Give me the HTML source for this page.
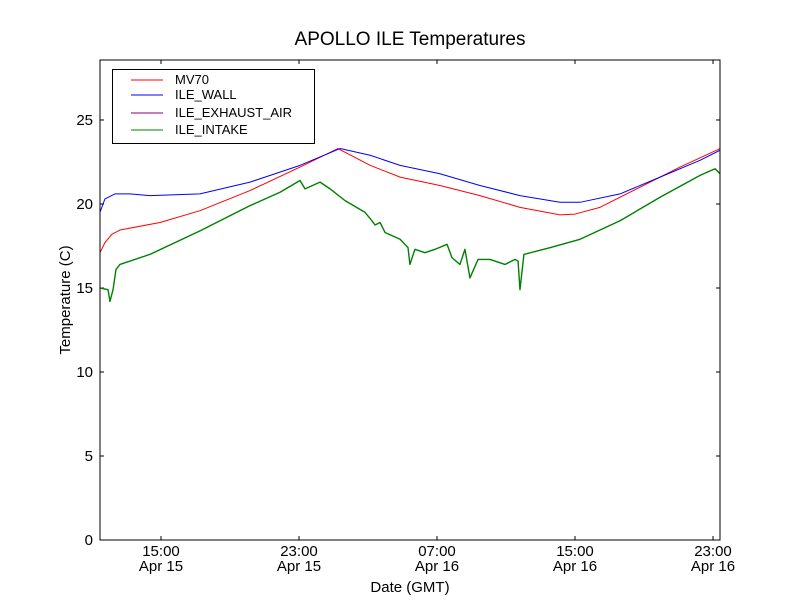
<!DOCTYPE html>
<html><head><meta charset="utf-8"><style>
body{margin:0;background:#fff;}
svg{display:block;font-family:"Liberation Sans",sans-serif;}
</style></head><body>
<svg id="chart" width="800" height="600" xmlns="http://www.w3.org/2000/svg">
<rect width="800" height="600" fill="#fff"/>
<text x="410" y="45" font-size="19" text-anchor="middle">APOLLO ILE Temperatures</text>
<text x="410" y="592" font-size="15" text-anchor="middle">Date (GMT)</text>
<text transform="translate(70,300) rotate(-90)" font-size="15" text-anchor="middle">Temperature (C)</text>
<g id="ticks"></g>
<g id="series" clip-path="url(#clip)"></g>
<clipPath id="clip"><rect x="100" y="60" width="620" height="480"/></clipPath>
<rect x="100" y="60" width="620" height="480" fill="none" stroke="#000" stroke-width="1"/>
<g>
<rect x="112.5" y="69.5" width="202" height="74" fill="#fff" stroke="#000" stroke-width="1"/>
<line x1="131" y1="80" x2="163" y2="80" stroke="#ff0000"/>
<text x="175" y="84" font-size="13">MV70</text>
<line x1="131" y1="95" x2="163" y2="95" stroke="#0000ff"/>
<text x="175" y="99" font-size="13">ILE_WALL</text>
<line x1="131" y1="113" x2="163" y2="113" stroke="#800080"/>
<text x="175" y="117" font-size="13">ILE_EXHAUST_AIR</text>
<line x1="131" y1="130" x2="163" y2="130" stroke="#008000"/>
<text x="175" y="134" font-size="13">ILE_INTAKE</text>
</g>
</svg>
<script>
const yTicks=[0,5,10,15,20,25];
const xTicks=[15,23,31,39,47];
const xTickTimes=["15:00","23:00","07:00","15:00","23:00"];
const xTickDates=["Apr 15","Apr 15","Apr 16","Apr 16","Apr 16"];
const mvT=[11.46,11.75,12.16,12.62,14.94,17.26,20.16,23.06,25.26,27.12,28.86,31.17,33.49,35.81,38.13,39.00,40.45,42.77,45.09,47.41];
const mvV=[17.1,17.7,18.2,18.45,18.9,19.6,20.8,22.2,23.3,22.3,21.6,21.1,20.5,19.8,19.35,19.4,19.8,21.0,22.2,23.3];
const wallT=[11.46,11.75,12.33,13.20,14.36,17.26,20.16,23.06,25.38,27.12,28.86,31.17,33.49,35.81,38.13,39.29,41.61,43.93,46.25,47.41];
const wallV=[19.5,20.3,20.6,20.6,20.5,20.6,21.3,22.3,23.3,22.9,22.3,21.8,21.1,20.5,20.1,20.1,20.6,21.6,22.6,23.2];
const inT=[11.46,11.93,12.04,12.22,12.39,12.62,14.36,17.26,20.16,21.90,23.06,23.35,24.22,24.80,25.67,26.83,27.23,27.41,27.70,27.99,28.86,29.32,29.43,29.72,30.30,30.88,31.58,31.87,32.33,32.62,32.91,33.38,34.07,34.94,35.52,35.70,35.81,36.04,37.55,39.29,41.61,43.93,46.25,47.12,47.41];
const inV=[15.0,14.9,14.2,14.9,16.1,16.4,17.0,18.4,19.9,20.7,21.4,20.9,21.3,20.9,20.2,19.5,19.0,18.75,18.9,18.3,17.9,17.4,16.4,17.3,17.1,17.3,17.6,16.8,16.4,17.3,15.6,16.7,16.7,16.4,16.7,16.6,14.9,17.0,17.4,17.9,19.0,20.4,21.7,22.1,21.8];
const X0=11.464,X1=47.406,Y0=0,Y1=28.57;
const sx=t=>100+(t-X0)/(X1-X0)*620;
const sy=v=>540-(v-Y0)/(Y1-Y0)*480;
const NS="http://www.w3.org/2000/svg";
const tg=document.getElementById('ticks');
function el(n,a,p){const e=document.createElementNS(NS,n);for(const k in a)e.setAttribute(k,a[k]);p.appendChild(e);return e;}
yTicks.forEach(v=>{const y=sy(v);
el('line',{x1:100,y1:y,x2:104,y2:y,stroke:'#000'},tg);
el('line',{x1:716,y1:y,x2:720,y2:y,stroke:'#000'},tg);
const t=el('text',{x:93,y:y+5,'font-size':15,'text-anchor':'end'},tg);t.textContent=v;

});
xTicks.forEach((h,i)=>{const x=sx(h);
el('line',{x1:x,y1:540,x2:x,y2:536,stroke:'#000'},tg);
el('line',{x1:x,y1:60,x2:x,y2:64,stroke:'#000'},tg);
const t=el('text',{x:x,y:556,'font-size':15,'text-anchor':'middle'},tg);t.textContent=xTickTimes[i];


const d=el('text',{x:x,y:571,'font-size':15,'text-anchor':'middle'},tg);d.textContent=xTickDates[i];

});
const sg=document.getElementById('series');
function line(T,V,c,name,w){const p=el('polyline',{points:T.map((t,i)=>sx(t)+','+sy(V[i])).join(' '),fill:'none',stroke:c,'stroke-width':w,'stroke-linejoin':'round'},sg);

}
line(inT,inV,'#008000','ile-intake-line',1.4);
line(mvT,mvV,'#ff0000','mv70-line',1);
line(wallT,wallV,'#0000ff','ile-wall-line',1);
</script>
</body></html>
